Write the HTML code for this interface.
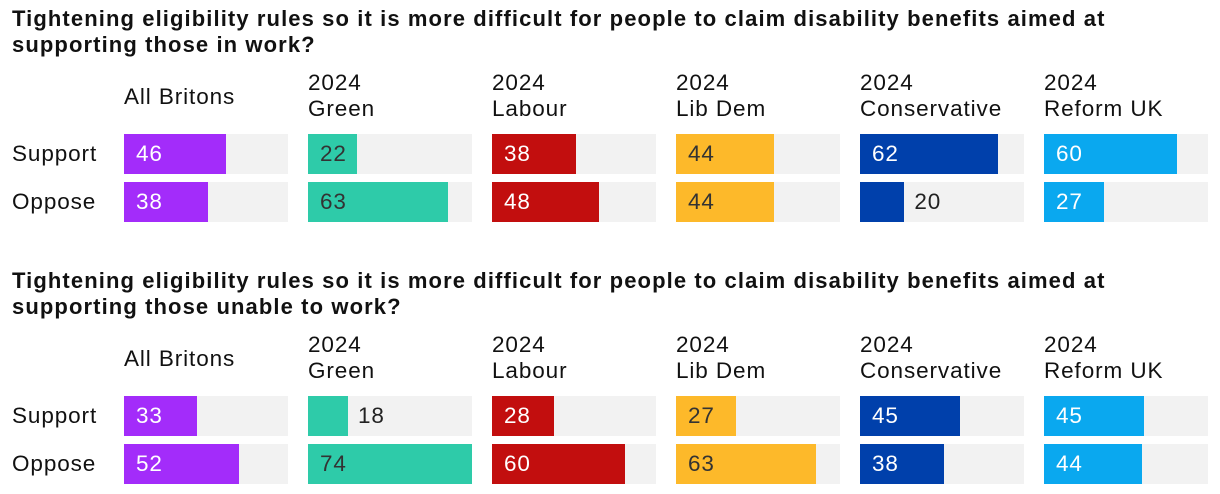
<!DOCTYPE html>
<html><head><meta charset="utf-8"><style>
body{margin:0;width:1220px;height:494px;background:#fff;font-family:"Liberation Sans",sans-serif;overflow:hidden;position:relative}
.t{position:absolute;left:12px;font-weight:bold;font-size:22px;line-height:26px;color:#111;letter-spacing:1.1px;white-space:nowrap}
.h{position:absolute;font-size:22.5px;line-height:26px;color:#111;letter-spacing:0.9px;white-space:nowrap}
.r{position:absolute;left:12px;font-size:22.5px;color:#111;line-height:40px;letter-spacing:0.9px}
.track{position:absolute;background:#f2f2f2;height:40px;width:164px}
.bar{position:absolute;height:40px;left:0;top:0}
.v{position:absolute;top:0;line-height:40px;font-size:22.5px;letter-spacing:0.9px}
</style></head><body>
<div class="t" style="top:6px">Tightening eligibility rules so it is more difficult for people to claim disability benefits aimed at<br>supporting those in work?</div>
<div class="t" style="top:268px">Tightening eligibility rules so it is more difficult for people to claim disability benefits aimed at<br>supporting those unable to work?</div>
<div id="root"></div>
<script>
const groups=["All Britons","2024\nGreen","2024\nLabour","2024\nLib Dem","2024\nConservative","2024\nReform UK"];
const colors=["#a32cfa","#2ecba9","#c20e0e","#fdb92a","#0040ab","#0aa8ef"];
const textColors=["#fff","#333","#fff","#333","#fff","#fff"];
const rows=["Support","Oppose"];
const support1=[46,22,38,44,62,60];
const oppose1=[38,63,48,44,20,27];
const support2=[33,18,28,27,45,45];
const oppose2=[52,74,60,63,38,44];
const sections=[[support1,oppose1],[support2,oppose2]];
const scale=v=>v*2.22;
const root=document.getElementById('root');
sections.forEach((sec,si)=>{
  const top=si===0?134:396;
  groups.forEach((g,gi)=>{
    const x=124+gi*184;
    const h=document.createElement('div');
    h.className='h';
    
    
    const lines=g.split('\n');
    h.innerHTML=lines.join('<br>');
    h.style.left=x+'px';
    h.style.top=(top-(lines.length===1?50:64))+'px';
    root.appendChild(h);
    sec.forEach((vals,ri)=>{
      const v=vals[gi];
      const tr=document.createElement('div');
      tr.className='track';
      
      
      tr.style.left=x+'px';tr.style.top=(top+ri*48)+'px';
      const b=document.createElement('div');
      b.className='bar';
      
      
      const w=scale(v);
      b.style.width=w+'px';b.style.background=colors[gi];
      tr.appendChild(b);
      const l=document.createElement('div');
      l.className='v';
      
      
      l.textContent=v;
      if(w<46){l.style.left=(w+10)+'px';l.style.color='#222';}
      else{l.style.left='12px';l.style.color=textColors[gi];}
      tr.appendChild(l);
      root.appendChild(tr);
    });
  });
  rows.forEach((r,ri)=>{
    const d=document.createElement('div');
    d.className='r';
    
    
    d.textContent=r;d.style.top=(top+ri*48)+'px';
    root.appendChild(d);
  });
});
</script>
</body></html>
